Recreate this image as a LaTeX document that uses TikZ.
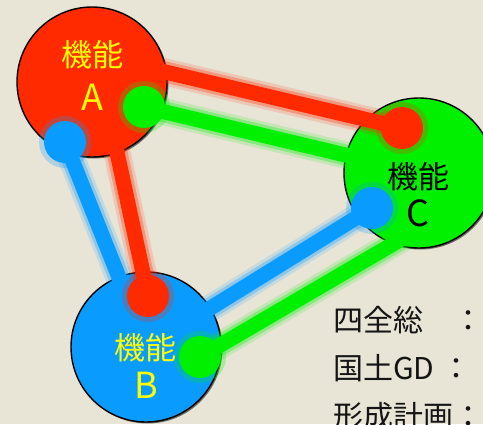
\documentclass[tikz,border=0pt]{standalone}
\usepackage{fontspec}
\setmainfont{Noto Sans CJK JP}
\usetikzlibrary{shadows}
\definecolor{bg}{HTML}{E8E4D6}
\definecolor{cr}{HTML}{FF2A00}
\definecolor{cg}{HTML}{00F000}
\definecolor{cb}{HTML}{0A9BFF}
\definecolor{ty}{HTML}{FFFF00}
\definecolor{tx}{HTML}{151515}
\begin{document}
\begin{tikzpicture}[x=1pt,y=-1pt,
  bigc/.style={circle, draw=black, line width=1.4pt, minimum size=150pt, inner sep=0pt,
    drop shadow={shadow xshift=1.5pt, shadow yshift=-1.5pt, opacity=0.55, fill=black}},
  dotn/.style={circle, fill=#1, minimum size=42pt, inner sep=0pt},
  dotglow/.style={circle, fill=#1, opacity=0.25, minimum size=52pt, inner sep=0pt},
  conn/.style={draw=#1, line width=15pt},
  glowa/.style={draw=#1, line width=27pt, opacity=0.15},
  glowb/.style={draw=#1, line width=21pt, opacity=0.3},
  lbl/.style={font=\fontsize{31}{31}\selectfont, text=#1, inner sep=0pt},
  side/.style={font=\fontsize{30}{30}\selectfont, text=tx, anchor=west, inner sep=0pt}]
\useasboundingbox (0,0) rectangle (483,424);
\fill[bg] (0,0) rectangle (483,424);
\clip (0,0) rectangle (483,424);
% big circles
\node[bigc, fill=cr] (A) at (92,82) {};
\node[bigc, fill=cg] (C) at (419,173) {};
\node[bigc, fill=cb] (B) at (146,347) {};
% connector ends
\coordinate (aR) at (140,66);
\coordinate (aR2) at (110,120);
\coordinate (cG) at (400,168);
\coordinate (bB) at (128,300);
\coordinate (bB2) at (175,330);
\coordinate (cG2) at (405,237);
% dots (positions)
\path (402,128) coordinate (pcR) (144,107) coordinate (paG) (65,142) coordinate (paB)
      (372,208) coordinate (pcB) (148,296) coordinate (pbR) (200,357) coordinate (pbG);
% glows
\foreach \s in {glowa,glowb}{
  \draw[\s=cr] (aR) -- (pcR);
  \draw[\s=cr] (aR2) -- (pbR);
  \draw[\s=cg] (paG) -- (cG);
  \draw[\s=cg] (pbG) -- (cG2);
  \draw[\s=cb] (paB) -- (bB);
  \draw[\s=cb] (pcB) -- (bB2);
}
\draw[conn=cr] (aR) -- (pcR);
\draw[conn=cr] (aR2) -- (pbR);
\draw[conn=cg] (paG) -- (cG);
\draw[conn=cg] (pbG) -- (cG2);
\draw[conn=cb] (paB) -- (bB);
\draw[conn=cb] (pcB) -- (bB2);
% dot glows and dots
\node[dotglow=cr] at (pcR) {};
\node[dotglow=cg] at (paG) {};
\node[dotglow=cb] at (paB) {};
\node[dotglow=cb] at (pcB) {};
\node[dotglow=cr] at (pbR) {};
\node[dotglow=cg] at (pbG) {};
\node[dotn=cr] (dcR) at (pcR) {};
\node[dotn=cg] (daG) at (paG) {};
\node[dotn=cb] (daB) at (paB) {};
\node[dotn=cb] (dcB) at (pcB) {};
\node[dotn=cr] (dbR) at (pbR) {};
\node[dotn=cg] (dbG) at (pbG) {};
% labels
\node[lbl=ty] (tA1) at (92,55) {機能};
\node[lbl=ty] (tA2) at (92,97) {\fontsize{36}{36}\selectfont A};
\node[lbl=ty] (tB1) at (145,348) {機能};
\node[lbl=ty] (tB2) at (146,385) {\fontsize{36}{36}\selectfont B};
\node[lbl=black] (tC1) at (418,177) {機能};
\node[lbl=black] (tC2) at (418,213) {\fontsize{36}{36}\selectfont C};
% side text
\node[side] (s1) at (333,320) {四全総　：};
\node[side] (s2) at (333,368) {国土GD ：};
\node[side] (s3) at (333,416) {形成計画：};
\end{tikzpicture}
\end{document}
